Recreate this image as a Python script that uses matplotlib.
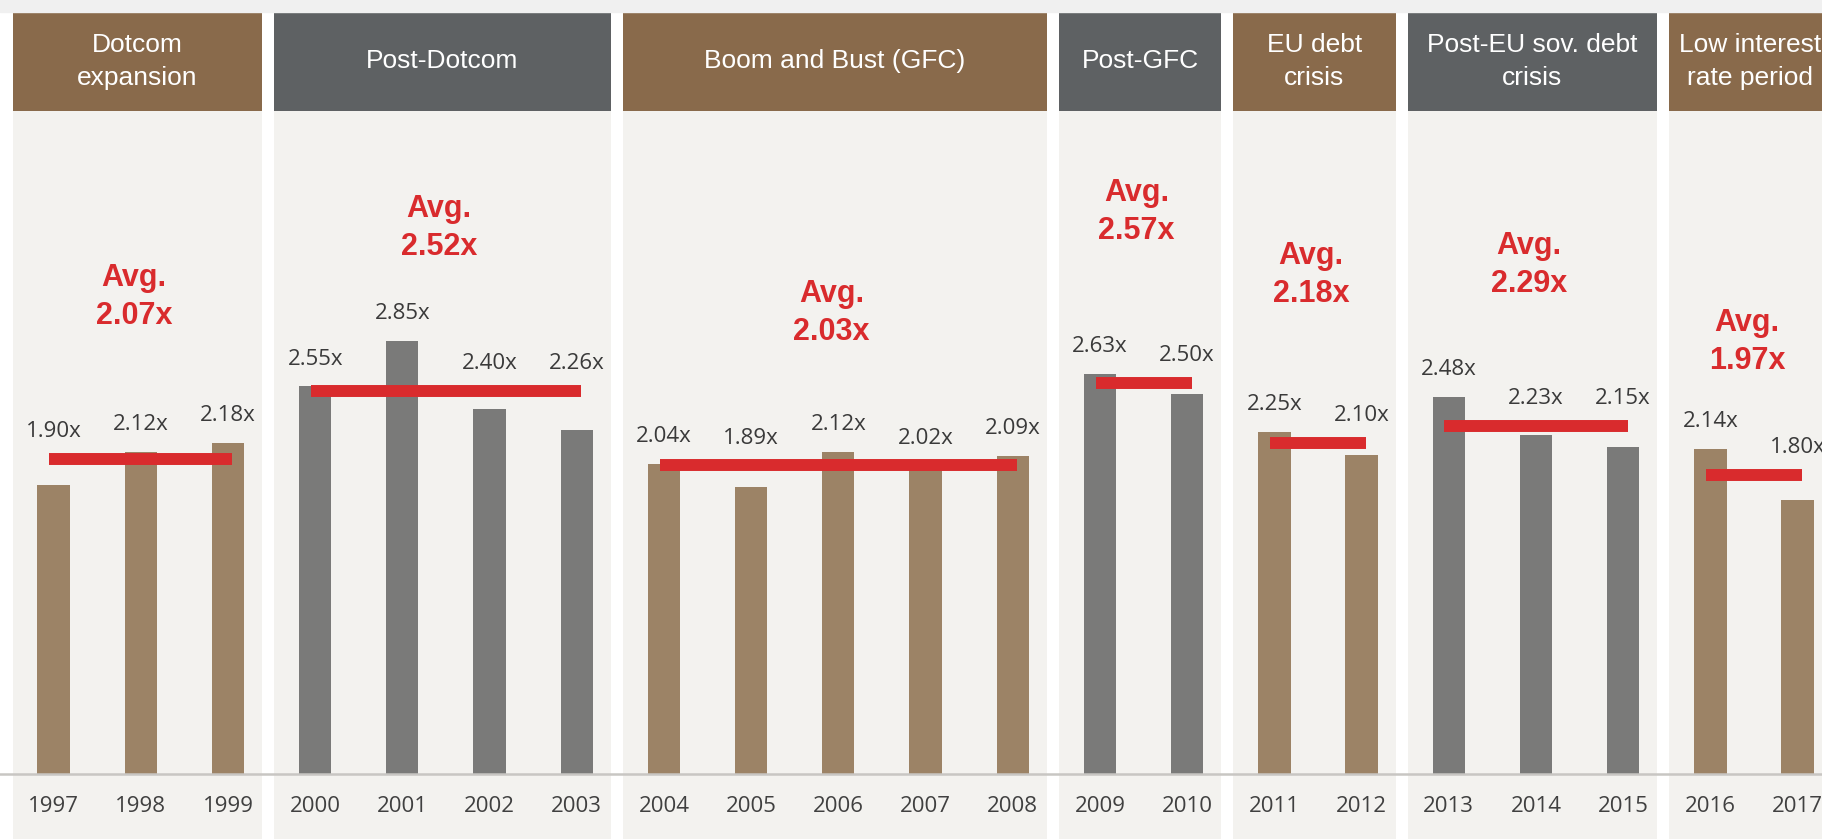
import numpy as np
import matplotlib.pyplot as plt
from matplotlib.patches import Rectangle

# data
years = ['1997', '1998', '1999', '2000', '2001', '2002', '2003', '2004', '2005', '2006',
         '2007', '2008', '2009', '2010', '2011', '2012', '2013', '2014', '2015', '2016', '2017']
values = [1.90, 2.12, 2.18, 2.55, 2.85, 2.40, 2.26, 2.04, 1.89, 2.12,
          2.02, 2.09, 2.63, 2.50, 2.25, 2.10, 2.48, 2.23, 2.15, 2.14, 1.80]
periods = ['Dotcom\nexpansion', 'Post-Dotcom', 'Boom and Bust (GFC)', 'Post-GFC',
           'EU debt\ncrisis', 'Post-EU sov. debt\ncrisis', 'Low interest\nrate period']
period_sizes = [3, 4, 5, 2, 2, 3, 2]
period_avgs = [2.07, 2.52, 2.03, 2.57, 2.18, 2.29, 1.97]

# layout (vertical position of the "Avg." callouts)
avg_label_y = [3.14, 3.59, 3.03, 3.70, 3.28, 3.35, 2.84]

brown_head, grey_head = '#896A4B', '#5E6163'
brown_bar, grey_bar = '#9C8366', '#7A7A79'
panel_bg = '#F3F2EF'
red = '#D92B2D'

fig = plt.figure(figsize=(18.22, 8.39), dpi=100)
fig.patch.set_facecolor('white')
fig.patches.append(Rectangle((0, 0.986), 1, 0.014, transform=fig.transFigure,
                             color='#F0F0F0', zorder=0))
ax = fig.add_axes([0, 0, 1, 1])
ax.set_xlim(-0.614, 20.28)
ax.set_ylim(-0.428, 5.092)
ax.axis('off')

x = np.arange(len(years))
head_bot, head_top = 4.36, 5.016

start = 0
for g, size in enumerate(period_sizes):
    idx = x[start:start + size]
    left, right = idx[0] - 0.47, idx[-1] + 0.39
    is_brown = g % 2 == 0
    # panel background and header
    ax.add_patch(Rectangle((left, -0.5), right - left, head_bot + 0.5,
                           color=panel_bg, zorder=0, lw=0))
    ax.add_patch(Rectangle((left, head_bot), right - left, head_top - head_bot,
                           color=brown_head if is_brown else grey_head, zorder=1, lw=0))
    cx = (left + right) / 2
    ax.text(cx, (head_bot + head_top) / 2, periods[g], color='white', ha='center',
            va='center', fontsize=19, family='Liberation Sans', linespacing=1.45, zorder=3)

    # bars
    vals = values[start:start + size]
    ax.bar(idx, vals, width=0.37, color=brown_bar if is_brown else grey_bar,
           zorder=2, lw=0)

    # average line
    avg = period_avgs[g]
    ax.hlines(avg, idx[0] - 0.05, idx[-1] + 0.05, color=red, lw=8.6, zorder=4)
    ax.text(cx - 0.04, avg_label_y[g], 'Avg.\n%.2fx' % avg, color=red, ha='center',
            va='center', fontsize=22, fontweight='bold', family='Liberation Sans',
            linespacing=1.35, zorder=5)

    # value labels
    for xi, v in zip(idx, vals):
        ax.text(xi, max(v, avg) + 0.18, '%.2fx' % v, ha='center', va='center',
                fontsize=16, color='#3A3A3A', family='Open Sans', zorder=5)
    start += size

# baseline and year labels
ax.axhline(0, color='#C8C6C3', lw=1.8, zorder=3)
for xi, yr in zip(x, years):
    ax.text(xi, -0.214, yr, ha='center', va='center', fontsize=16,
            color='#404040', family='Open Sans', zorder=5)

fig.savefig('out.png', dpi=100, facecolor=fig.get_facecolor())
